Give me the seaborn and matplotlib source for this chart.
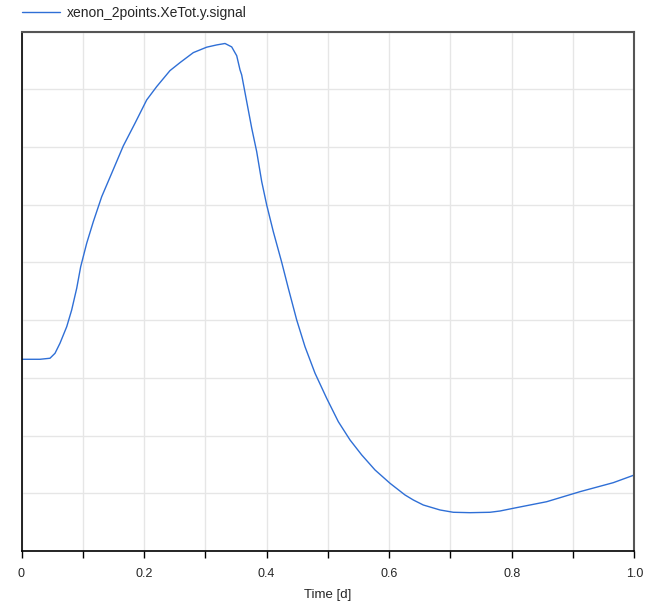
import matplotlib
matplotlib.use("Agg")
import matplotlib.pyplot as plt
import seaborn as sns
import pandas as pd
from matplotlib.ticker import MultipleLocator

# values (y in grid units, the axis carries no labels)
time_d = [0.0, 0.0302, 0.0465, 0.0547, 0.0628, 0.0738, 0.0819, 0.0901, 0.0966,
          0.1064, 0.1172, 0.1309, 0.1472, 0.1661, 0.1852, 0.2043, 0.2206,
          0.2423, 0.2587, 0.2804, 0.3022, 0.3185, 0.3321, 0.3430, 0.3512,
          0.3566, 0.3593, 0.3675, 0.3757, 0.3838, 0.3920, 0.4001, 0.4109,
          0.4246, 0.4354, 0.4491, 0.4626, 0.4790, 0.4980, 0.5170, 0.5361,
          0.5552, 0.5769, 0.6014, 0.6258, 0.6394, 0.6557, 0.6829, 0.7046,
          0.7319, 0.7645, 0.7808, 0.8025, 0.8570, 0.9114, 0.9657, 1.0]
xe_tot = [3.322, 3.322, 3.340, 3.426, 3.600, 3.887, 4.177, 4.553, 4.927,
          5.333, 5.707, 6.140, 6.546, 7.019, 7.412, 7.816, 8.047,
          8.324, 8.463, 8.636, 8.730, 8.769, 8.794, 8.735, 8.582,
          8.336, 8.250, 7.787, 7.326, 6.920, 6.400, 5.997, 5.534,
          5.003, 4.553, 4.003, 3.541, 3.080, 2.646, 2.241, 1.924,
          1.664, 1.404, 1.173, 0.971, 0.884, 0.797, 0.711, 0.671,
          0.664, 0.671, 0.693, 0.740, 0.854, 1.028, 1.184, 1.317]
series_name = "xenon_2points.XeTot.y.signal"

df = pd.DataFrame({"time": time_d, "value": xe_tot})

sns.set_style("white")
plt.rcParams["font.family"] = ["Liberation Sans", "DejaVu Sans"]

fig = plt.figure(figsize=(6.45, 6.03), dpi=100)
ax = fig.add_axes([21.5 / 645, 1 - 551 / 603, 612.8 / 645, (551 - 31.6) / 603])

sns.lineplot(data=df, x="time", y="value", ax=ax, color="#2f6fd6", linewidth=1.0,
             label=series_name, legend=False)

ax.set_xlim(0, 1)
ax.set_ylim(0, 9)
ax.xaxis.set_major_locator(MultipleLocator(0.2))
ax.xaxis.set_minor_locator(MultipleLocator(0.1))
ax.yaxis.set_major_locator(MultipleLocator(1))
ax.xaxis.set_major_formatter(plt.FuncFormatter(lambda v, p: "0" if v == 0 else f"{v:.1f}"))
ax.set_yticklabels([])
ax.tick_params(axis="y", length=0)
ax.tick_params(axis="x", which="both", direction="out", length=5, width=1,
               color="black", labelsize=9, pad=7, bottom=True)
ax.grid(True, which="both", color="#e6e6e6", linewidth=1)
ax.set_axisbelow(True)

for side in ["left", "bottom"]:
    ax.spines[side].set_color("black")
    ax.spines[side].set_linewidth(1.2)
for side in ["top", "right"]:
    ax.spines[side].set_color("#555555")
    ax.spines[side].set_linewidth(1.5)

ax.set_xlabel("Time [d]", fontsize=9.5, labelpad=7)
ax.set_ylabel("")

handles = ax.get_lines()[:1]
fig.legend(handles, [series_name], loc="center left",
           bbox_to_anchor=(22 / 645, 1 - 13 / 603), frameon=False,
           fontsize=10, handlelength=2.75, handletextpad=0.5,
           borderaxespad=0, borderpad=0)

fig.savefig("out.png", dpi=100)
